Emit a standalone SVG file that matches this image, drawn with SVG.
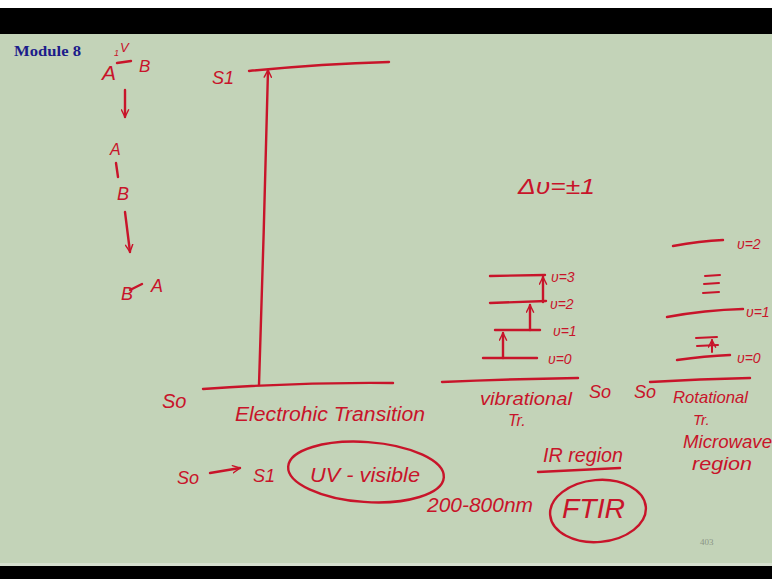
<svg xmlns="http://www.w3.org/2000/svg" width="772" height="579" viewBox="0 0 772 579">
<defs>
<style>
.ink{stroke:#c8142a;stroke-width:2.4;fill:none;stroke-linecap:round;stroke-linejoin:round}
.thin{stroke-width:2}
.hw{font-family:"Liberation Sans","DejaVu Sans",sans-serif;fill:#c8142a;font-style:italic}
.lbl{font-size:14px}
</style>
<marker id="ah" viewBox="0 0 10 10" refX="9" refY="5" markerWidth="9" markerHeight="9" markerUnits="userSpaceOnUse" orient="auto">
<path d="M1,1 L9,5 L1,9" fill="none" stroke="#c8142a" stroke-width="1.6" stroke-linecap="round"/>
</marker>
</defs>
<rect x="0" y="0" width="772" height="579" fill="#c3d3b8"/>
<rect x="0" y="0" width="772" height="8" fill="#ffffff"/>
<rect x="0" y="8" width="772" height="26" fill="#000000"/>
<rect x="0" y="563" width="772" height="3" fill="#d6e0cf"/>
<rect x="0" y="566" width="772" height="13" fill="#000000"/>

<g id="title">
<text x="14" y="56" font-family="'Liberation Serif',serif" font-weight="bold" font-size="15" fill="#1c1c8a" textLength="67" lengthAdjust="spacingAndGlyphs">Module 8</text>
</g>

<g id="mechanism">
<text class="hw" x="102" y="80" font-size="21">A</text>
<text class="hw" x="114" y="56" font-size="9">1</text>
<text class="hw" x="120" y="52" font-size="13">V</text>
<path class="ink" d="M117,63 L131,61"/>
<text class="hw" x="139" y="72" font-size="17">B</text>
<text class="hw" x="110" y="155" font-size="16">A</text>
<path class="ink" d="M116,163 L118,177"/>
<text class="hw" x="117" y="200" font-size="18">B</text>
<text class="hw" x="121" y="300" font-size="18">B</text>
<path class="ink" d="M130,290 L142,284"/>
<text class="hw" x="151" y="292" font-size="18">A</text>
</g>

<g id="electronic">
<text class="hw" x="212" y="84" font-size="18">S1</text>
<path class="ink" d="M249,71 Q320,64 389,62"/>
<text class="hw" x="162" y="408" font-size="20">So</text>
<path class="ink" d="M203,389 Q300,382 393,383"/>
<text class="hw" x="235" y="421" font-size="20" textLength="190" lengthAdjust="spacingAndGlyphs">Electrohic Transition</text>
</g>

<g id="uv">
<text class="hw" x="177" y="484" font-size="18">So</text>
<text class="hw" x="253" y="482" font-size="18">S1</text>
<ellipse class="ink" cx="366" cy="472" rx="78" ry="30" transform="rotate(4 366 472)"/>
<text class="hw" x="310" y="482" font-size="20" textLength="110" lengthAdjust="spacingAndGlyphs">UV - visible</text>
<text class="hw" x="427" y="512" font-size="20" textLength="106" lengthAdjust="spacingAndGlyphs">200-800nm</text>
</g>

<g id="vibrational">
<text class="hw" x="518" y="194" font-size="22" textLength="77" lengthAdjust="spacingAndGlyphs">Δυ=±1</text>
<path class="ink" d="M490,276 L545,275"/>
<path class="ink" d="M490,303 L546,301"/>
<path class="ink" d="M495,330 L540,330"/>
<path class="ink" d="M483,358 L537,358"/>
<text class="hw lbl" x="551" y="282">υ=3</text>
<text class="hw lbl" x="550" y="309">υ=2</text>
<text class="hw lbl" x="553" y="336">υ=1</text>
<text class="hw lbl" x="548" y="364">υ=0</text>
<path class="ink" d="M442,382 Q510,379 578,378"/>
<text class="hw" x="589" y="398" font-size="18">So</text>
<text class="hw" x="480" y="405" font-size="18" textLength="92" lengthAdjust="spacingAndGlyphs">vibrational</text>
<text class="hw" x="508" y="426" font-size="16">Tr.</text>
<text class="hw" x="543" y="462" font-size="20" textLength="80" lengthAdjust="spacingAndGlyphs">IR region</text>
<path class="ink" d="M538,472 L620,468"/>
<ellipse class="ink" cx="598" cy="511" rx="48" ry="31" transform="rotate(-5 598 511)"/>
<text class="hw" x="562" y="518" font-size="27" textLength="63" lengthAdjust="spacingAndGlyphs">FTIR</text>
</g>

<g id="rotational">
<path class="ink" d="M673,246 Q700,241 723,240"/>
<text class="hw lbl" x="737" y="249">υ=2</text>
<path class="ink thin" d="M705,276 L720,275"/>
<path class="ink thin" d="M704,284 L719,283"/>
<path class="ink thin" d="M703,293 L719,292"/>
<path class="ink" d="M667,317 Q705,310 743,309"/>
<text class="hw lbl" x="746" y="317">υ=1</text>
<path class="ink thin" d="M696,338 L717,337"/>
<path class="ink thin" d="M697,346 L718,345"/>
<path class="ink" d="M677,360 Q705,356 730,355"/>
<text class="hw lbl" x="737" y="363">υ=0</text>
<text class="hw" x="634" y="398" font-size="18">So</text>
<path class="ink" d="M650,382 Q700,379 750,378"/>
<text class="hw" x="673" y="403" font-size="17" textLength="75" lengthAdjust="spacingAndGlyphs">Rotational</text>
<text class="hw" x="693" y="425" font-size="15">Tr.</text>
<text class="hw" x="683" y="448" font-size="18" textLength="89" lengthAdjust="spacingAndGlyphs">Microwave</text>
<text class="hw" x="692" y="470" font-size="18" textLength="60" lengthAdjust="spacingAndGlyphs">region</text>
</g>

<g id="page">
<text x="700" y="545" font-family="'Liberation Serif',serif" font-size="9" fill="#8a9485">403</text>
</g>

<g id="connectors">
<path class="ink" d="M125,90 L125,117" marker-end="url(#ah)"/>
<path class="ink" d="M125,212 L130,252" marker-end="url(#ah)"/>
<path class="ink" d="M259,385 C262,300 266,150 268,70" marker-end="url(#ah)"/>
<path class="ink" d="M210,473 L240,468" marker-end="url(#ah)"/>
<path class="ink" d="M503,358 L503,333" marker-end="url(#ah)"/>
<path class="ink" d="M530,330 L530,305" marker-end="url(#ah)"/>
<path class="ink" d="M543,302 L543,277" marker-end="url(#ah)"/>
<path class="ink thin" d="M712,352 L712,340" marker-end="url(#ah)"/>
</g>
</svg>
